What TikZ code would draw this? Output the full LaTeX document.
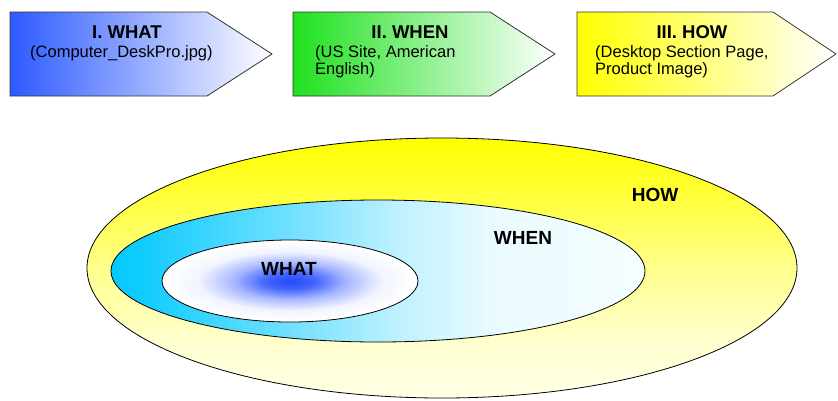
\documentclass[tikz,border=0pt]{standalone}
\usepackage{fontspec}
\setmainfont{Liberation Sans}
\definecolor{blueA}{RGB}{45,90,255}
\definecolor{greenA}{RGB}{30,225,30}
\definecolor{yellowA}{RGB}{255,255,0}
\definecolor{cyanA}{RGB}{0,200,255}
\definecolor{blueC}{RGB}{35,75,255}
\pgfdeclareverticalshading{howshade}{100bp}{color(0bp)=(yellowA!10); color(25bp)=(yellowA!10); color(35bp)=(yellowA!18); color(50bp)=(yellowA!45); color(65bp)=(yellowA!80); color(75bp)=(yellowA); color(100bp)=(yellowA)}
\pgfdeclarehorizontalshading{whenshade}{100bp}{color(0bp)=(cyanA); color(25bp)=(cyanA); color(33bp)=(cyanA!80); color(42bp)=(cyanA!55); color(52bp)=(cyanA!25); color(61bp)=(cyanA!8); color(75bp)=(cyanA!4); color(100bp)=(cyanA!4)}
\pgfdeclareradialshading{whatshade}{\pgfpoint{0bp}{0bp}}{color(0bp)=(blueC); color(5bp)=(blueC!85); color(11bp)=(blueC!40); color(18bp)=(blueC!6); color(24bp)=(white); color(50bp)=(white)}
\begin{document}
\begin{tikzpicture}[x=1pt,y=-1pt,
  boxline/.style={draw=black!80,line width=0.8pt},
  ttl/.style={font=\fontsize{18.5}{20}\selectfont\bfseries, inner sep=0pt},
  sub/.style={font=\fontsize{16.5}{17}\selectfont, align=left, anchor=west, inner sep=0pt},
  ell/.style={draw=black, line width=0.8pt},
  lbl/.style={font=\fontsize{19}{20}\selectfont\bfseries, inner sep=0pt}]
\useasboundingbox (0,0) rectangle (838,400);
% arrow boxes
\shadedraw[boxline, left color=blueA, middle color=blueA!30, right color=white]
  (10,12) -- (207,12) -- (272,54) -- (207,96) -- (10,96) -- cycle;
\shadedraw[boxline, left color=greenA, middle color=greenA!30, right color=white]
  (293,12) -- (490,12) -- (555,54) -- (490,96) -- (293,96) -- cycle;
\shadedraw[boxline, left color=yellowA, middle color=yellowA!30, right color=white]
  (577,12) -- (773,12) -- (836,54) -- (773,96) -- (577,96) -- cycle;
\node[ttl] (t1) at (127,32) {I. WHAT};
\node[sub] (s1) at (30,53) {(Computer\_DeskPro.jpg)};
\node[ttl] (t2) at (410,32) {II. WHEN};
\node[sub] (s2) at (315,61.5) {(US Site, American\\English)};
\node[ttl] (t3) at (692,32) {III. HOW};
\node[sub] (s3) at (595,61.5) {(Desktop Section Page,\\Product Image)};
% ellipses
\shadedraw[ell, shading=howshade] (442,268) ellipse [x radius=355, y radius=130];
\shadedraw[ell, shading=whenshade] (378,271) ellipse [x radius=267, y radius=71];
\shadedraw[ell, shading=whatshade] (290,281) ellipse [x radius=128, y radius=41];
\node[lbl] (how) at (655,195) {HOW};
\node[lbl] (when) at (523,238) {WHEN};
\node[lbl] (what) at (289,269) {WHAT};
\end{tikzpicture}
\end{document}
